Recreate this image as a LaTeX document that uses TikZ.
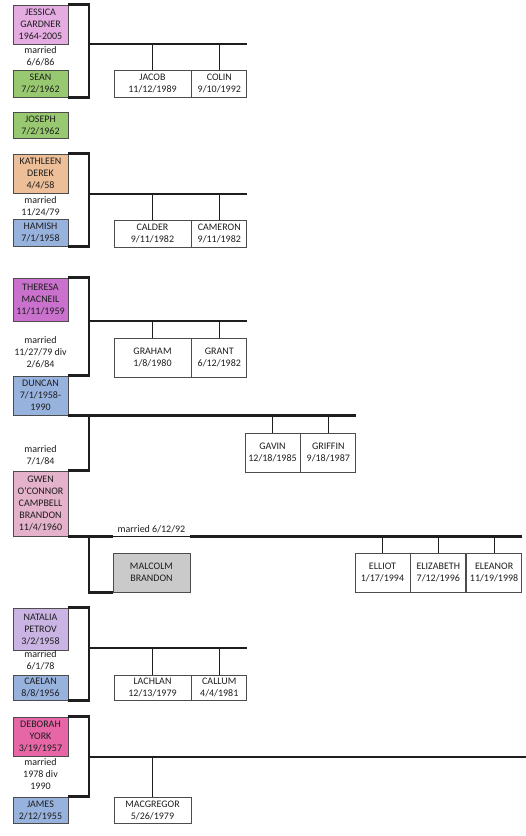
\documentclass[tikz,border=0pt]{standalone}
\usepackage{fontspec}
\usepackage{tikz}
\usetikzlibrary{positioning,calc}
\newfontfamily\famfont{Carlito}
\newcommand\famsize{\famfont\fontsize{10}{12}\selectfont}
\definecolor{orchidP}{RGB}{228,172,224}
\definecolor{leafG}{RGB}{152,201,112}
\definecolor{peachK}{RGB}{237,191,152}
\definecolor{skyB}{RGB}{152,178,222}
\definecolor{plumT}{RGB}{202,112,205}
\definecolor{roseG}{RGB}{228,178,202}
\definecolor{lilacN}{RGB}{202,180,228}
\definecolor{fuchsD}{RGB}{230,102,166}
\definecolor{greyM}{RGB}{202,202,202}
\definecolor{inkL}{RGB}{30,30,30}
\tikzset{
  pbox/.style={rectangle, draw=black!70, line width=0.8pt, fill=#1, align=center,
               font=\famsize, text=inkL, minimum width=55pt, inner sep=1pt},
  kid/.style={rectangle, draw=black!70, line width=0.8pt, fill=white, align=center,
              font=\famsize, text=inkL, minimum width=55pt, inner sep=1pt},
  widekid/.style={kid, minimum width=77pt},
  wed/.style={align=center, font=\famsize, text=inkL, inner sep=1pt},
  bracket/.style={line width=2.6pt, draw=inkL},
  drop/.style={line width=0.9pt, draw=inkL},
}
\begin{document}
\begin{tikzpicture}[x=1pt, y=-1pt, node distance=0pt]
  \useasboundingbox[fill=white] (0,0) rectangle (526,836);
  % Sean + Jessica
  \node[pbox=orchidP, minimum height=39pt] (jessica) at (40.5,24.5) {JESSICA\\GARDNER\\1964-2005};
  \node[wed] (wed1) at (40.5,56.5) {married\\6/6/86};
  \node[pbox=leafG, minimum height=27pt] (sean) at (40.5,83.5) {SEAN\\7/2/1962};
  \node[widekid, minimum height=27pt] (jacob) at (152.5,83.5) {JACOB\\11/12/1989};
  \node[kid, minimum height=27pt, right=of jacob] (colin) {COLIN\\9/10/1992};
  \coordinate (f1) at (89,44);
  \draw[bracket] (jessica.north east) -| (f1) |- (sean.south east);
  \draw[bracket] (f1) -- (f1 -| colin.east);
  \draw[drop] (jacob.north) -- (jacob.north |- f1);
  \draw[drop] (colin.north) -- (colin.north |- f1);
  \node[pbox=leafG, minimum height=26pt] (joseph) at (40.5,125) {JOSEPH\\7/2/1962};
  % Hamish + Kathleen
  \node[pbox=peachK, minimum height=39pt] (kathleen) at (40.5,173.5) {KATHLEEN\\DEREK\\4/4/58};
  \node[wed] (wed2) at (40.5,206.5) {married\\11/24/79};
  \node[pbox=skyB, minimum height=27pt] (hamish) at (40.5,232.5) {HAMISH\\7/1/1958};
  \node[widekid, minimum height=27pt] (calder) at (152.5,233.5) {CALDER\\9/11/1982};
  \node[kid, minimum height=27pt, right=of calder] (cameron) {CAMERON\\9/11/1982};
  \coordinate (f2) at (89,194);
  \draw[bracket] (kathleen.north east) -| (f2) |- (hamish.south east);
  \draw[bracket] (f2) -- (f2 -| cameron.east);
  \draw[drop] (calder.north) -- (calder.north |- f2);
  \draw[drop] (cameron.north) -- (cameron.north |- f2);
  % Duncan + Theresa
  \node[pbox=plumT, minimum height=43pt] (theresa) at (40.5,299.5) {THERESA\\MACNEIL\\11/11/1959};
  \node[wed] (wed3) at (40.5,352.5) {married\\11/27/79 div\\2/6/84};
  \node[pbox=skyB, minimum height=39pt] (duncan) at (40.5,395.5) {DUNCAN\\7/1/1958-\\1990};
  \node[widekid, minimum height=39pt] (graham) at (152.5,357.5) {GRAHAM\\1/8/1980};
  \node[kid, minimum height=39pt, right=of graham] (grant) {GRANT\\6/12/1982};
  \coordinate (f3) at (89,321);
  \draw[bracket] (theresa.north east) -| (f3) |- (duncan.north east);
  \draw[bracket] (f3) -- (f3 -| grant.east);
  \draw[drop] (graham.north) -- (graham.north |- f3);
  \draw[drop] (grant.north) -- (grant.north |- f3);
  % Duncan + Gwen
  \node[wed] (wed4) at (40.5,455) {married\\7/1/84};
  \node[pbox=roseG, minimum height=65pt] (gwen) at (40.5,503.5) {GWEN\\O'CONNOR\\CAMPBELL\\BRANDON\\11/4/1960};
  \node[kid, minimum height=39pt] (gavin) at (272.5,452.5) {GAVIN\\12/18/1985};
  \node[kid, minimum height=39pt, right=of gavin] (griffin) {GRIFFIN\\9/18/1987};
  \coordinate (f4) at (89,415);
  \draw[bracket] (duncan.south east) -- (duncan.south east -| griffin.east);
  \draw[bracket] (f4) |- (gwen.north east);
  \draw[drop] (gavin.north) -- (gavin.north |- f4);
  \draw[drop] (griffin.north) -- (griffin.north |- f4);
  % Gwen + Malcolm
  \node[pbox=greyM, minimum width=77pt, minimum height=39pt] (malcolm) at (151.5,572.5) {MALCOLM\\BRANDON};
  \node[kid, minimum height=39pt] (elliot) at (382.5,572.5) {ELLIOT\\1/17/1994};
  \node[kid, minimum height=39pt, right=of elliot] (elizabeth) {ELIZABETH\\7/12/1996};
  \node[kid, minimum height=39pt, right=of elizabeth] (eleanor) {ELEANOR\\11/19/1998};
  \coordinate (f5) at (89,536);
  \coordinate (m1) at (malcolm.west |- gwen.south east);
  \coordinate (m2) at (malcolm.east |- gwen.south east);
  \draw[bracket] (gwen.south east) -- (m1);
  \draw[drop] (m1) -- node[wed, above=2pt] {married 6/12/92} (m2);
  \draw[bracket] (m2) -- (m2 -| eleanor.east);
  \draw[bracket] (f5) |- (malcolm.south west);
  \draw[drop] (elliot.north) -- (elliot.north |- f5);
  \draw[drop] (elizabeth.north) -- (elizabeth.north |- f5);
  \draw[drop] (eleanor.north) -- (eleanor.north |- f5);
  % Caelan + Natalia
  \node[pbox=lilacN, minimum height=42pt] (natalia) at (40.5,629) {NATALIA\\PETROV\\3/2/1958};
  \node[wed] (wed5) at (40.5,660) {married\\6/1/78};
  \node[pbox=skyB, minimum height=25pt] (caelan) at (40.5,687.5) {CAELAN\\8/8/1956};
  \node[widekid, minimum height=25pt] (lachlan) at (152.5,687.5) {LACHLAN\\12/13/1979};
  \node[kid, minimum height=25pt, right=of lachlan] (callum) {CALLUM\\4/4/1981};
  \coordinate (f6) at (89,648);
  \draw[bracket] (natalia.north east) -| (f6) |- (caelan.south east);
  \draw[bracket] (f6) -- (f6 -| callum.east);
  \draw[drop] (lachlan.north) -- (lachlan.north |- f6);
  \draw[drop] (callum.north) -- (callum.north |- f6);
  % James + Deborah
  \node[pbox=fuchsD, minimum height=39pt] (deborah) at (40.5,736.5) {DEBORAH\\YORK\\3/19/1957};
  \node[wed] (wed6) at (40.5,774) {married\\1978 div\\1990};
  \node[pbox=skyB, minimum height=26pt] (james) at (40.5,810) {JAMES\\2/12/1955};
  \node[widekid, minimum height=26pt] (macgregor) at (152.5,810) {MACGREGOR\\5/26/1979};
  \coordinate (f7) at (89,757);
  \coordinate (f7end) at (526,757);
  \draw[bracket] (deborah.north east) -| (f7) |- (james.north east);
  \draw[bracket] (f7) -- (f7end);
  \draw[drop] (macgregor.north) -- (macgregor.north |- f7);
\end{tikzpicture}
\end{document}
